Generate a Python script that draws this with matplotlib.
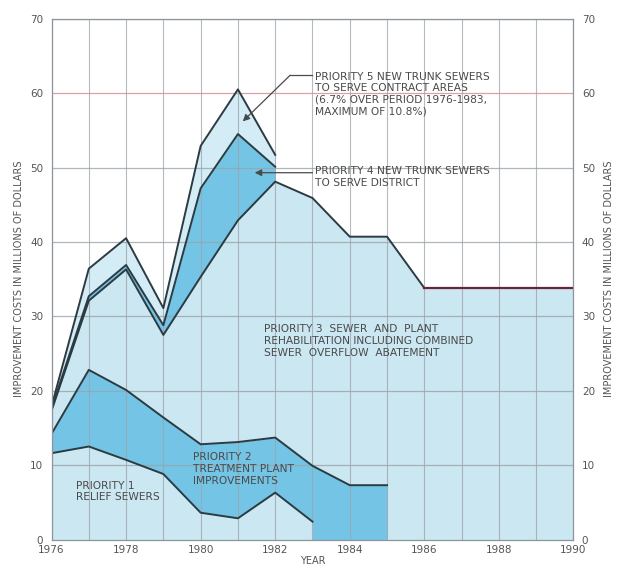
import numpy as np
import matplotlib
matplotlib.use("Agg")
import matplotlib.pyplot as plt

# ---- data (millions of dollars per priority, by year) ----
years = np.arange(1976, 1991)
p1_years = np.arange(1976, 1984)
p1 = [11.6, 12.5, 10.7, 8.8, 3.6, 2.85, 6.3, 2.4]                    # relief sewers
p2_years = np.arange(1976, 1986)
p2 = [2.6, 10.3, 9.4, 7.6, 9.2, 10.25, 7.4, 7.5, 7.3, 7.3]             # treatment plant
p3 = [3.1, 9.3, 16.2, 11.1, 22.5, 29.8, 34.4, 36.0, 33.4, 33.4,
      33.8, 33.8, 33.8, 33.8, 33.8]                                    # rehabilitation
p45_years = np.arange(1976, 1983)
p4 = [0.3, 0.6, 0.6, 1.3, 11.9, 11.6, 2.0]                             # trunk sewers district
p5 = [0.3, 3.7, 3.6, 2.3, 5.7, 6.0, 1.6]                               # trunk sewers contract

yticks = list(range(0, 71, 10))
xtick_labels = list(range(1976, 1991, 2))

def pad(vals, yrs):
    out = np.zeros(len(years))
    out[np.searchsorted(years, yrs)] = vals
    return out

P1 = pad(p1, p1_years)
P2 = pad(p2, p2_years)
P3 = np.array(p3, dtype=float)
P4 = pad(p4, p45_years)
P5 = pad(p5, p45_years)

top1 = P1
top2 = P1 + P2
top3 = top2 + P3
top4 = top3 + P4
top5 = top4 + P5

m1 = years <= p1_years[-1]
m2 = years <= p2_years[-1]
m45 = years <= p45_years[-1]

LIGHT = "#cbe7f2"
LIGHTER = "#d3ecf6"
DARK = "#74c4e6"
EDGE = "#2c3b42"

fig = plt.figure(figsize=(6.23, 5.67), dpi=100)
ax = fig.add_axes([0.0827, 0.0485, 0.8378, 0.9185])

# painted back-to-front so later layers end with vertical edges
ax.fill_between(years[m45], 0, top5[m45], color=LIGHTER, lw=0, zorder=1)
ax.fill_between(years[m45], 0, top4[m45], color=DARK, lw=0, zorder=1.1)
ax.fill_between(years, 0, top3, color=LIGHT, lw=0, zorder=1.2)
ax.fill_between(years[m2], 0, top2[m2], color=DARK, lw=0, zorder=1.3)
ax.fill_between(years[m1], 0, top1[m1], color=LIGHT, lw=0, zorder=1.4)

# outlines
ax.plot(years[m45], top5[m45], color=EDGE, lw=1.4, zorder=4)
ax.plot(years[m45], top4[m45], color=EDGE, lw=1.4, zorder=4)
m3a = years <= 1986
ax.plot(years[m3a], top3[m3a], color=EDGE, lw=1.4, zorder=4)
m3b = years >= 1986
ax.plot(years[m3b], top3[m3b], color="#6b2335", lw=1.6, zorder=4)
ax.plot(years[m2], top2[m2], color=EDGE, lw=1.4, zorder=4)
ax.plot(years[m1], top1[m1], color=EDGE, lw=1.4, zorder=4)

ax.set_xlim(1976, 1990)
ax.set_ylim(0, 70)
ax.set_yticks(yticks)
ax.set_xticks(xtick_labels)
ax.set_xticks(years, minor=True)

# grid
for y in yticks[1:]:
    col = "#d58a8f" if y == 60 else "#9aa4a8"
    ax.axhline(y, color=col, lw=0.9, alpha=0.8, zorder=2)
for x in years:
    ax.axvline(x, color="#9aa4a8", lw=0.8, alpha=0.75, zorder=2)

for s in ax.spines.values():
    s.set_color("#8c9599")
    s.set_linewidth(0.9)
    s.set_zorder(5)

ax.tick_params(axis="both", which="both", length=0, labelsize=7.5,
               labelcolor="#555555")
ax.tick_params(axis="y", labelright=True, pad=6)
ax.tick_params(axis="x", pad=4)
ax.set_xticklabels([str(v) for v in xtick_labels])

lab = dict(fontsize=7, color="#555555")
fig.text(0.5025, 0.011, "YEAR", ha="center", va="center", **lab)
fig.text(0.030, 0.508, "IMPROVEMENT COSTS IN MILLIONS OF DOLLARS",
         rotation=90, ha="center", va="center", **lab)
fig.text(0.977, 0.508, "IMPROVEMENT COSTS IN MILLIONS OF DOLLARS",
         rotation=90, ha="center", va="center", **lab)

txt = dict(fontsize=7.7, color="#4a4a4a", zorder=6, linespacing=1.2)
ax.text(1983.07, 62.9,
        "PRIORITY 5 NEW TRUNK SEWERS\nTO SERVE CONTRACT AREAS\n"
        "(6.7% OVER PERIOD 1976-1983,\nMAXIMUM OF 10.8%)",
        ha="left", va="top", **txt)
ax.annotate("", xy=(1981.13, 56.2), xytext=(1982.4, 62.4),
            arrowprops=dict(arrowstyle="-|>", color="#4a4a4a", lw=0.9,
                            mutation_scale=10, shrinkA=0, shrinkB=0), zorder=6)
ax.plot([1982.4, 1983.0], [62.4, 62.4], color="#4a4a4a", lw=0.9, zorder=6)

ax.text(1983.07, 50.2, "PRIORITY 4 NEW TRUNK SEWERS\nTO SERVE DISTRICT",
        ha="left", va="top", **txt)
ax.annotate("", xy=(1981.45, 49.3), xytext=(1983.0, 49.3),
            arrowprops=dict(arrowstyle="-|>", color="#4a4a4a", lw=0.9,
                            mutation_scale=10, shrinkA=0, shrinkB=0), zorder=6)

ax.text(1981.7, 28.9,
        "PRIORITY 3  SEWER  AND  PLANT\nREHABILITATION INCLUDING COMBINED\n"
        "SEWER  OVERFLOW  ABATEMENT",
        ha="left", va="top", **txt)
ax.text(1979.8, 11.7, "PRIORITY 2\nTREATMENT PLANT\nIMPROVEMENTS",
        ha="left", va="top", **txt)
ax.text(1976.65, 7.9, "PRIORITY 1\nRELIEF SEWERS",
        ha="left", va="top", **txt)

fig.savefig("out.png", dpi=100)
